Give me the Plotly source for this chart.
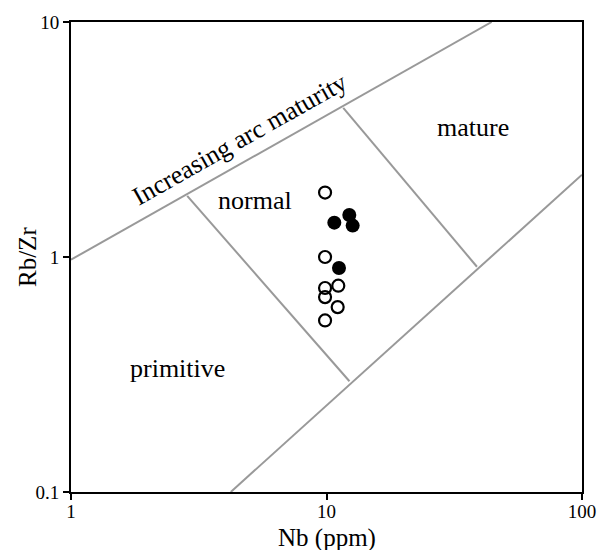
import numpy as np
import plotly.graph_objects as go

# Field boundaries (Nb ppm, Rb/Zr)
upper_x = [1.0, 44.3]
upper_y = [0.974, 10.0]
lower_x = [4.22, 100.0]
lower_y = [0.1, 2.24]
left_cross_x = [2.85, 12.3]
left_cross_y = [1.82, 0.296]
right_cross_x = [11.63, 38.8]
right_cross_y = [4.31, 0.909]

# Samples
open_nb = [9.87, 9.87, 11.12, 9.87, 9.87, 11.06, 9.87]
open_rbzr = [1.88, 1.00, 0.755, 0.738, 0.675, 0.612, 0.537]
filled_nb = [10.73, 12.28, 12.66, 11.19]
filled_rbzr = [1.40, 1.51, 1.36, 0.898]

# Labels
label_text = ["normal", "primitive", "mature"]
label_x = [5.27, 2.62, 37.3]
label_y = [1.74, 0.334, 3.56]

FONT = "Liberation Serif, Times New Roman, serif"
LINE_GREY = "#999999"

fig = go.Figure()

for xs, ys in [(upper_x, upper_y), (lower_x, lower_y),
               (left_cross_x, left_cross_y), (right_cross_x, right_cross_y)]:
    fig.add_trace(go.Scatter(x=xs, y=ys, mode="lines",
                             line=dict(color=LINE_GREY, width=2),
                             hoverinfo="skip", showlegend=False))

fig.add_trace(go.Scatter(
    x=open_nb, y=open_rbzr, mode="markers",
    marker=dict(symbol="circle-open", size=12, color="black",
                line=dict(color="black", width=2.2)),
    showlegend=False))

fig.add_trace(go.Scatter(
    x=filled_nb, y=filled_rbzr, mode="markers",
    marker=dict(symbol="circle", size=14, color="black",
                line=dict(width=0)),
    showlegend=False))

for t, x, y in zip(label_text, label_x, label_y):
    fig.add_annotation(x=np.log10(x), y=np.log10(y), text=t, showarrow=False,
                       font=dict(family=FONT, size=26, color="black"))

fig.add_annotation(x=np.log10(4.56), y=np.log10(3.17),
                   text="Increasing arc maturity", showarrow=False,
                   textangle=-29.4,
                   font=dict(family=FONT, size=26, color="black"))

# axis titles placed by hand so they sit as in the original
fig.add_annotation(xref="paper", yref="paper", x=0.5, y=0, yshift=-46,
                   xanchor="center", yanchor="middle",
                   text="Nb (ppm)", showarrow=False,
                   font=dict(family=FONT, size=25, color="black"))
fig.add_annotation(xref="paper", yref="paper", x=0, y=0.5, xshift=-44,
                   xanchor="center", yanchor="middle",
                   text="Rb/Zr", showarrow=False, textangle=-90,
                   font=dict(family=FONT, size=25, color="black"))

axis_style = dict(
    type="log", showgrid=False, zeroline=False, automargin=False,
    showline=True, linecolor="black", linewidth=2, mirror=True,
    ticks="outside", ticklen=6, tickwidth=2, tickcolor="black",
    tickfont=dict(family=FONT, size=19, color="black"),
)

fig.update_xaxes(range=[0, 2], tickvals=[1, 10, 100], ticktext=["1", "10", "100"],
                 ticklabelstandoff=-5, **axis_style)
fig.update_yaxes(range=[-1, 1], tickvals=[0.1, 1, 10], ticktext=["0.1", "1", "10"],
                 **axis_style)

# page body adds an 8 px offset, so margins are measured from there
fig.update_layout(
    width=608, height=550,
    margin=dict(l=63, r=34, t=14, b=66),
    plot_bgcolor="white", paper_bgcolor="white",
    font=dict(family=FONT, color="black"),
)

fig.write_html("out.html")
